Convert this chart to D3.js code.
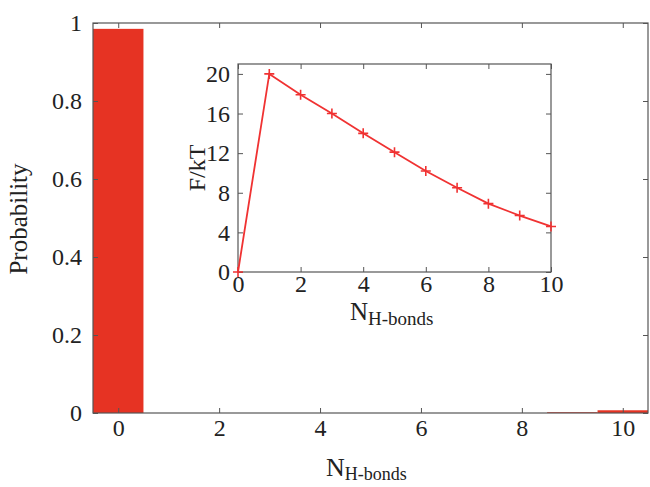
<!DOCTYPE html>
<html>
<head>
<meta charset="utf-8">
<script src="https://cdn.jsdelivr.net/npm/d3@7"></script>
<style>
  body { margin: 0; background: #fff; }
  svg text { font-family: "Liberation Serif", "DejaVu Serif", serif !important; fill: #222; }
</style>
</head>
<body>
<div id="chart"></div>
<script>
// histogram of hydrogen bond counts
var nBonds = [0, 1, 2, 3, 4, 5, 6, 7, 8, 9, 10];
var probability = [0.985, 0, 0, 0, 0, 0, 0, 0, 0, 0.002, 0.007];
var probTicks = [0, 0.2, 0.4, 0.6, 0.8, 1];
var probTickLabels = ["0", "0.2", "0.4", "0.6", "0.8", "1"];
var mainXTicks = [0, 2, 4, 6, 8, 10];

// free energy inset
var freeEnergy = [0, 20, 17.9, 16.0, 14.0, 12.1, 10.2, 8.5, 6.9, 5.7, 4.6];
var insetYTicks = [0, 4, 8, 12, 16, 20];
var insetXTicks = [0, 2, 4, 6, 8, 10];

var serif = "'Liberation Serif', 'DejaVu Serif', serif";

var svg = d3.select("#chart").append("svg")
  .attr("width", 650).attr("height", 487)
  .attr("font-family", serif);

var axisColor = "#555";

// main plot
var x = d3.scaleLinear().domain([-0.5, 10.5]).range([93, 648]);
var y = d3.scaleLinear().domain([0, 1]).range([413, 23]);

svg.selectAll(".bar")
  .data(nBonds)
  .enter().append("rect")
  .attr("class", "bar")
  .attr("x", function(d) { return x(d - 0.5); })
  .attr("width", function(d) { return x(d + 0.5) - x(d - 0.5); })
  .attr("y", function(d, i) { return y(probability[i]); })
  .attr("height", function(d, i) { return y(0) - y(probability[i]); })
  .attr("fill", "#e63323");

function styleAxis(g, size) {
  g.attr("font-family", serif);
  g.select(".domain").remove();
  g.selectAll("line").attr("stroke", axisColor);
  g.selectAll("text")
    .style("font-family", serif)
    .style("font-size", size + "px")
    .style("fill", "#222");
}

svg.append("g")
  .attr("transform", "translate(0,413)")
  .call(d3.axisBottom(x).tickValues(mainXTicks).tickSize(-5).tickPadding(6).tickFormat(d3.format("d")))
  .call(styleAxis, 24);
svg.append("g")
  .attr("transform", "translate(0,23)")
  .call(d3.axisTop(x).tickValues(mainXTicks).tickSize(-5).tickFormat(""))
  .call(styleAxis, 24);
svg.append("g")
  .attr("transform", "translate(93,0)")
  .call(d3.axisLeft(y).tickValues(probTicks).tickSize(-5).tickPadding(11)
    .tickFormat(function(d, i) { return probTickLabels[i]; }))
  .call(styleAxis, 24);
svg.append("g")
  .attr("transform", "translate(648,0)")
  .call(d3.axisRight(y).tickValues(probTicks).tickSize(-5).tickFormat(""))
  .call(styleAxis, 24);

svg.append("rect")
  .attr("x", 93).attr("y", 23).attr("width", 555).attr("height", 390)
  .attr("fill", "none").attr("stroke", axisColor).attr("stroke-width", 1.2);

svg.append("text")
  .attr("transform", "translate(27,219) rotate(-90)")
  .attr("text-anchor", "middle")
  .style("font-size", "25px")
  .text("Probability");

var mainLabel = svg.append("text")
  .attr("x", 326).attr("y", 476)
  .style("font-size", "26px");
mainLabel.append("tspan").text("N");
mainLabel.append("tspan").attr("dy", 4).style("font-size", "18px").text("H-bonds");

// inset
var ix = d3.scaleLinear().domain([0, 10]).range([238, 551]);
var iy = d3.scaleLinear().domain([0, 21]).range([272, 64]);

svg.append("rect")
  .attr("x", 238).attr("y", 64).attr("width", 313).attr("height", 208)
  .attr("fill", "#fff");

svg.append("g")
  .attr("transform", "translate(0,272)")
  .call(d3.axisBottom(ix).tickValues(insetXTicks).tickSize(-5).tickPadding(3).tickFormat(d3.format("d")))
  .call(styleAxis, 24);
svg.append("g")
  .attr("transform", "translate(0,64)")
  .call(d3.axisTop(ix).tickValues(insetXTicks).tickSize(-5).tickFormat(""))
  .call(styleAxis, 24);
svg.append("g")
  .attr("transform", "translate(238,0)")
  .call(d3.axisLeft(iy).tickValues(insetYTicks).tickSize(-5).tickPadding(8).tickFormat(d3.format("d")))
  .call(styleAxis, 24);
svg.append("g")
  .attr("transform", "translate(551,0)")
  .call(d3.axisRight(iy).tickValues(insetYTicks).tickSize(-5).tickFormat(""))
  .call(styleAxis, 24);

svg.append("rect")
  .attr("x", 238).attr("y", 64).attr("width", 313).attr("height", 208)
  .attr("fill", "none").attr("stroke", axisColor).attr("stroke-width", 1.2);

var line = d3.line()
  .x(function(d, i) { return ix(nBonds[i]); })
  .y(function(d) { return iy(d); });

svg.append("path")
  .datum(freeEnergy)
  .attr("d", line)
  .attr("fill", "none")
  .attr("stroke", "#f03232")
  .attr("stroke-width", 1.8);

svg.selectAll(".cross")
  .data(freeEnergy)
  .enter().append("path")
  .attr("class", "cross")
  .attr("d", function(d, i) {
    var cx = ix(nBonds[i]), cy = iy(d);
    return "M" + (cx - 5) + "," + cy + "H" + (cx + 5) + "M" + cx + "," + (cy - 5) + "V" + (cy + 5);
  })
  .attr("stroke", "#f03232")
  .attr("stroke-width", 1.6);

svg.append("text")
  .attr("transform", "translate(205,168) rotate(-90)")
  .attr("text-anchor", "middle")
  .style("font-size", "24px")
  .text("F/kT");

var insetLabel = svg.append("text")
  .attr("x", 350).attr("y", 320)
  .style("font-size", "25px");
insetLabel.append("tspan").text("N");
insetLabel.append("tspan").attr("dy", 5).style("font-size", "19px").text("H-bonds");
</script>
</body>
</html>
